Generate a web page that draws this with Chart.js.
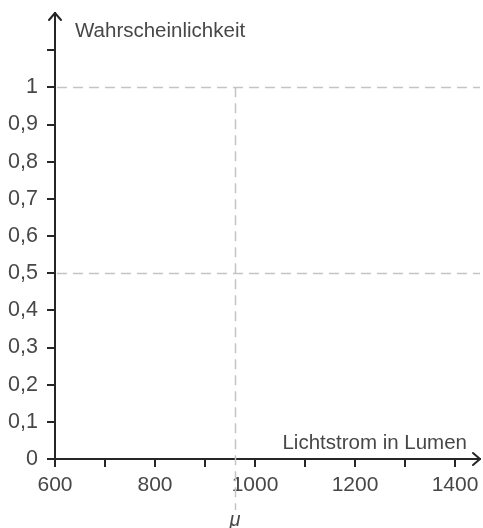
<!DOCTYPE html>
<html>
<head>
<meta charset="utf-8">
<script src="https://cdn.jsdelivr.net/npm/chart.js@4/dist/chart.umd.min.js"></script>
<style>
  html, body { margin: 0; padding: 0; background: #ffffff; }
  #wrap { width: 483px; height: 528px; }
</style>
</head>
<body>
<div id="wrap"><canvas id="c" width="483" height="528"></canvas></div>
<script>
// Axis ranges and ticks
const xRange = [600, 1450];
const yRange = [0, 1.2];
const xTickValues = [600, 700, 800, 900, 1000, 1100, 1200, 1300, 1400];
const xTickLabels = [600, 800, 1000, 1200, 1400];
const yTickValues = [0, 0.1, 0.2, 0.3, 0.4, 0.5, 0.6, 0.7, 0.8, 0.9, 1, 1.1];
const yTickLabels = [0, 0.1, 0.2, 0.3, 0.4, 0.5, 0.6, 0.7, 0.8, 0.9, 1];

// Guide lines
const guideLevels = [0.5, 1];
const muValue = 960;
const muTop = 1;

// Texts
const xTitle = 'Lichtstrom in Lumen';
const yTitle = 'Wahrscheinlichkeit';
const muLabel = 'μ';

const FONT = '"Liberation Sans", Arial, Helvetica, sans-serif';
const TEXT_COLOR = '#474747';
const AXIS_COLOR = '#262626';
const DASH_COLOR = '#c4c4c4';

const isIn = (list, v) => list.some(t => Math.abs(t - v) < 1e-9);
const fmtDe = v => String(Math.round(v * 10) / 10).replace('.', ',');

const decorations = {
  id: 'decorations',
  beforeDatasetsDraw(chart) {
    const { ctx, scales: { x, y } } = chart;
    ctx.save();
    ctx.strokeStyle = DASH_COLOR;
    ctx.lineWidth = 1.5;
    ctx.setLineDash([10, 6]);
    // horizontal guides
    guideLevels.forEach(level => {
      const py = Math.round(y.getPixelForValue(level)) + 0.5;
      ctx.beginPath();
      ctx.moveTo(x.getPixelForValue(xRange[0]) + 2, py);
      ctx.lineTo(x.getPixelForValue(xRange[1]), py);
      ctx.stroke();
    });
    // vertical guide at mu, continuing below the axis down to the label
    const px = Math.round(x.getPixelForValue(muValue)) + 0.5;
    ctx.beginPath();
    ctx.moveTo(px, y.getPixelForValue(muTop));
    ctx.lineTo(px, chart.height - 18);
    ctx.stroke();
    ctx.restore();
  },
  afterDraw(chart) {
    const { ctx, scales: { x, y } } = chart;
    const x0 = x.getPixelForValue(xRange[0]);
    const y0 = y.getPixelForValue(yRange[0]);
    const xEnd = x.getPixelForValue(xRange[1]);
    const yEnd = y.getPixelForValue(yRange[1]);
    ctx.save();
    // arrow heads
    ctx.strokeStyle = AXIS_COLOR;
    ctx.lineWidth = 2;
    ctx.lineCap = 'round';
    ctx.lineJoin = 'round';
    ctx.beginPath();
    ctx.moveTo(x0 - 6, yEnd + 7);
    ctx.lineTo(x0, yEnd);
    ctx.lineTo(x0 + 6, yEnd + 7);
    ctx.stroke();
    ctx.beginPath();
    ctx.moveTo(xEnd - 7, y0 - 6);
    ctx.lineTo(xEnd, y0);
    ctx.lineTo(xEnd - 7, y0 + 6);
    ctx.stroke();
    // axis titles
    ctx.fillStyle = TEXT_COLOR;
    ctx.font = '20.5px ' + FONT;
    ctx.textBaseline = 'alphabetic';
    ctx.textAlign = 'left';
    ctx.fillText(yTitle, x0 + 20, yEnd + 24);
    ctx.textAlign = 'right';
    ctx.fillText(xTitle, xEnd - 13, y0 - 10);
    // mu label
    ctx.font = 'italic 20px ' + FONT;
    ctx.textAlign = 'center';
    ctx.fillText(muLabel, x.getPixelForValue(muValue), chart.height - 2);
    ctx.restore();
  }
};

new Chart(document.getElementById('c'), {
  type: 'scatter',
  data: { datasets: [] },
  plugins: [decorations],
  options: {
    responsive: false,
    animation: false,
    devicePixelRatio: 1,
    layout: { padding: { top: 13, right: 3, left: 0, bottom: 0 } },
    plugins: { legend: { display: false }, tooltip: { enabled: false } },
    scales: {
      x: {
        type: 'linear',
        min: xRange[0],
        max: xRange[1],
        afterBuildTicks: s => { s.ticks = xTickValues.map(v => ({ value: v })); },
        afterFit: s => { s.height = 69; s.paddingLeft = 0; s.paddingRight = 0; },
        border: { display: true, color: AXIS_COLOR, width: 2 },
        grid: { drawOnChartArea: false, drawTicks: true, tickLength: 8, color: AXIS_COLOR, lineWidth: 2 },
        ticks: {
          autoSkip: false,
          maxRotation: 0,
          padding: 6,
          color: TEXT_COLOR,
          font: { family: FONT, size: 21 },
          callback: v => isIn(xTickLabels, v) ? String(v) : ''
        }
      },
      y: {
        type: 'linear',
        min: yRange[0],
        max: yRange[1],
        afterBuildTicks: s => { s.ticks = yTickValues.map(v => ({ value: v })); },
        afterFit: s => { s.width = 55; s.paddingTop = 0; s.paddingBottom = 0; },
        border: { display: true, color: AXIS_COLOR, width: 2 },
        grid: { drawOnChartArea: false, drawTicks: true, tickLength: 8, color: AXIS_COLOR, lineWidth: 2 },
        ticks: {
          autoSkip: false,
          padding: 9,
          color: TEXT_COLOR,
          font: { family: FONT, size: 21.5 },
          callback: v => isIn(yTickLabels, v) ? fmtDe(v) : ''
        }
      }
    }
  }
});
</script>
</body>
</html>
